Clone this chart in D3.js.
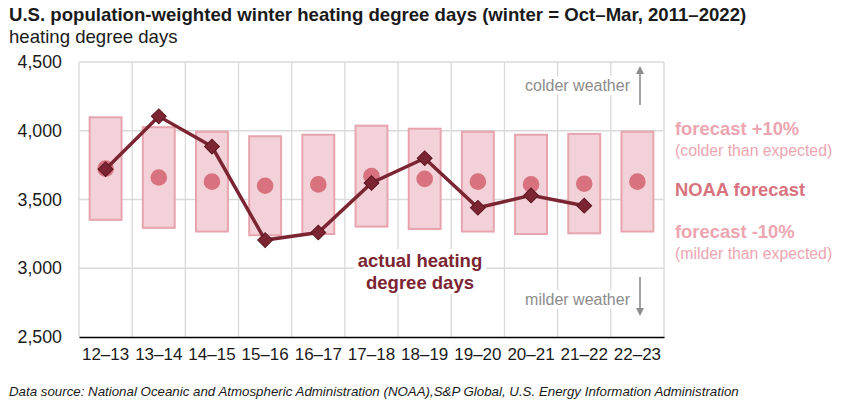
<!DOCTYPE html>
<html>
<head>
<meta charset="utf-8">
<script src="https://cdn.jsdelivr.net/npm/d3@7"></script>
<style>
  body { margin: 0; background: #fff; }
  svg { font-family: "Liberation Sans", Arial, sans-serif; display: block; }
</style>
</head>
<body>
<svg id="chart" width="842" height="400"></svg>
<script>
// winters
const winters = ["12–13","13–14","14–15","15–16","16–17","17–18","18–19","19–20","20–21","21–22","22–23"];
// NOAA forecast (dot)
const forecast = [3725, 3660, 3630, 3600, 3610, 3670, 3650, 3630, 3610, 3615, 3630];
// forecast +10% / -10% (box top / bottom)
const forecastHigh = [4098, 4026, 3993, 3960, 3971, 4037, 4015, 3993, 3971, 3977, 3993];
const forecastLow = [3352, 3294, 3267, 3240, 3249, 3303, 3285, 3267, 3249, 3254, 3267];
// actual heating degree days (no value yet for 22–23)
const actual = [3720, 4105, 3885, 3205, 3260, 3620, 3800, 3440, 3530, 3455];
const yTicks = [2500, 3000, 3500, 4000, 4500];

const W = 842, H = 400;
const M = { left: 79, right: 664, top: 62, bottom: 337 };

const col = {
  boxFill: "#f2d2d8",
  boxStroke: "#e8a4ae",
  dot: "#d7727e",
  line: "#7b2432",
  lineDark: "#5c1621",
  grid: "#d9d9d9",
  note: "#8c8c8c",
  pinkText: "#eda5b0"
};

const svg = d3.select("#chart");

const x = d3.scaleBand().domain(winters).range([M.left, M.right]);
const y = d3.scaleLinear().domain([2500, 4500]).range([M.bottom, M.top]);

// --- title
svg.append("text").attr("x", 9).attr("y", 21)
  .attr("font-size", 18.6).attr("font-weight", "bold").attr("fill", "#1a1a1a")
  .text("U.S. population-weighted winter heating degree days (winter = Oct–Mar, 2011–2022)");
svg.append("text").attr("x", 9).attr("y", 43)
  .attr("font-size", 18.6).attr("fill", "#1a1a1a")
  .text("heating degree days");

// --- grid
const grid = svg.append("g");
grid.selectAll("line.h").data(yTicks.slice(1)).join("line")
  .attr("x1", M.left).attr("x2", M.right)
  .attr("y1", d => y(d)).attr("y2", d => y(d))
  .attr("stroke", col.grid).attr("stroke-width", 1.3);
const vEdges = winters.map(w => x(w)).slice(1).concat([M.right]);
grid.selectAll("line.v").data(vEdges).join("line")
  .attr("x1", d => d).attr("x2", d => d)
  .attr("y1", M.top).attr("y2", M.bottom)
  .attr("stroke", col.grid).attr("stroke-width", 1.3);
grid.append("line").attr("x1", M.left).attr("x2", M.left)
  .attr("y1", M.top).attr("y2", M.bottom)
  .attr("stroke", col.grid).attr("stroke-width", 1.3);

// --- y axis
const yAxis = svg.append("g").attr("transform", `translate(${M.left},0)`)
  .call(d3.axisLeft(y).tickValues(yTicks).tickFormat(d3.format(",")).tickSize(0).tickPadding(17));
yAxis.select(".domain").remove();
yAxis.selectAll("text").attr("font-size", 17.8).attr("fill", "#1a1a1a")
  .attr("font-family", "Liberation Sans, Arial, sans-serif");

// --- x axis
const xAxis = svg.append("g").attr("transform", `translate(0,${M.bottom})`)
  .call(d3.axisBottom(x).tickSize(0).tickPadding(11));
xAxis.select(".domain").attr("stroke", "#000").attr("stroke-width", 1.5);
xAxis.selectAll("text").attr("font-size", 17).attr("fill", "#1a1a1a")
  .attr("font-family", "Liberation Sans, Arial, sans-serif");

// --- annotations with white backing
function note(lines, opts) {
  const g = svg.append("g");
  const lh = opts.lh || 0;
  const t = g.append("text").attr("text-anchor", opts.anchor)
    .attr("font-size", opts.size).attr("font-weight", opts.weight || "normal")
    .attr("fill", opts.color);
  lines.forEach((s, i) => t.append("tspan").attr("x", opts.x).attr("y", opts.y + i * lh).text(s));
  const b = t.node().getBBox();
  g.insert("rect", "text").attr("x", b.x - 4).attr("y", b.y - 1)
    .attr("width", b.width + 8).attr("height", b.height + 2).attr("fill", "#fff");
}
note(["colder weather"], { x: 630, y: 91, anchor: "end", size: 16, color: col.note });
note(["milder weather"], { x: 630, y: 305, anchor: "end", size: 16, color: col.note });
note(["actual heating", "degree days"], { x: 420, y: 267, lh: 22, anchor: "middle", size: 18.5, weight: "bold", color: col.line });

// arrows
const arrowG = svg.append("g").attr("stroke", col.note).attr("fill", col.note);
arrowG.append("line").attr("x1", 640).attr("x2", 640).attr("y1", 105).attr("y2", 72).attr("stroke-width", 1.6);
arrowG.append("path").attr("d", "M636,74 L640,66 L644,74 Z").attr("stroke", "none");
arrowG.append("line").attr("x1", 640).attr("x2", 640).attr("y1", 277).attr("y2", 310).attr("stroke-width", 1.6);
arrowG.append("path").attr("d", "M636,308 L640,316 L644,308 Z").attr("stroke", "none");

// --- forecast boxes
const bw = x.bandwidth() * 0.6;
svg.append("g").selectAll("rect").data(winters).join("rect")
  .attr("x", d => x(d) + (x.bandwidth() - bw) / 2)
  .attr("width", bw)
  .attr("y", (d, i) => y(forecastHigh[i]))
  .attr("height", (d, i) => y(forecastLow[i]) - y(forecastHigh[i]))
  .attr("fill", col.boxFill).attr("stroke", col.boxStroke).attr("stroke-width", 2);

// forecast dots
svg.append("g").selectAll("circle").data(winters).join("circle")
  .attr("cx", d => x(d) + x.bandwidth() / 2)
  .attr("cy", (d, i) => y(forecast[i]))
  .attr("r", 8.3).attr("fill", col.dot);

// --- actual line
const actualPts = actual.map((v, i) => ({ w: winters[i], v }));
const line = d3.line().x(d => x(d.w) + x.bandwidth() / 2).y(d => y(d.v));
svg.append("path").datum(actualPts).attr("d", line)
  .attr("fill", "none").attr("stroke", col.line).attr("stroke-width", 3.5);
const diamond = d3.symbol(d3.symbolSquare, 110);
svg.append("g").selectAll("path").data(actualPts).join("path")
  .attr("d", diamond)
  .attr("transform", d => `translate(${x(d.w) + x.bandwidth() / 2},${y(d.v)}) rotate(45)`)
  .attr("fill", col.line).attr("stroke", col.lineDark).attr("stroke-width", 1);

// --- right legend
const lg = svg.append("g").attr("font-weight", "bold");
lg.append("text").attr("x", 675).attr("y", 135).attr("font-size", 18.4).attr("fill", col.pinkText).text("forecast +10%");
lg.append("text").attr("x", 675).attr("y", 156).attr("font-size", 15.8).attr("font-weight", "normal").attr("fill", col.pinkText).text("(colder than expected)");
lg.append("text").attr("x", 675).attr("y", 196).attr("font-size", 18.4).attr("fill", col.dot).text("NOAA forecast");
lg.append("text").attr("x", 675).attr("y", 238).attr("font-size", 18.4).attr("fill", col.pinkText).text("forecast -10%");
lg.append("text").attr("x", 675).attr("y", 259).attr("font-size", 15.8).attr("font-weight", "normal").attr("fill", col.pinkText).text("(milder than expected)");

// --- source
svg.append("text").attr("x", 9).attr("y", 396)
  .attr("font-size", 13.3).attr("font-style", "italic").attr("fill", "#1a1a1a")
  .text("Data source: National Oceanic and Atmospheric Administration (NOAA),S&P Global, U.S. Energy Information Administration");
</script>
</body>
</html>
